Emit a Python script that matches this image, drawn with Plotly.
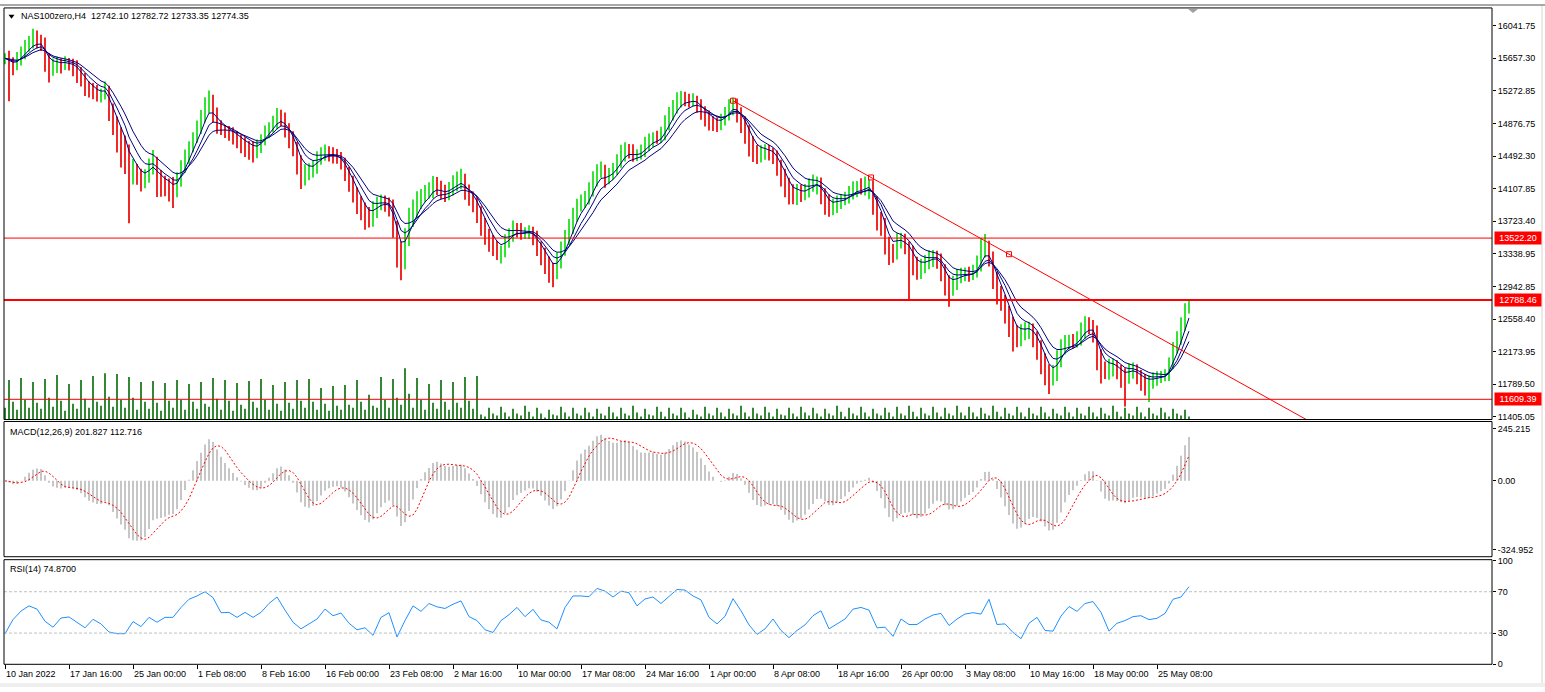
import numpy as np
import pandas as pd
import plotly.graph_objects as go

W, H = 1545, 692

# ---------------- data ----------------
# one point = two H4 bars (8 hours), starting 10 Jan 2022
close = [
    15655, 15597, 15573, 15620, 15714, 15772, 15831, 15866, 15854, 15831,
    15655, 15538, 15562, 15597, 15585, 15609, 15590, 15562, 15503, 15421,
    15339, 15281, 15269, 15222, 15235, 15269, 15070, 14894, 14777, 14660,
    14543, 14309, 14332, 14285, 14215, 14250, 14367, 14426, 14250, 14192,
    14168, 14157, 14098, 14192, 14367, 14484, 14602, 14719, 14836, 14953,
    15093, 15152, 15011, 14871, 14824, 14801, 14777, 14742, 14707, 14660,
    14625, 14602, 14578, 14602, 14684, 14777, 14836, 14894, 14976, 14953,
    14836, 14719, 14602, 14426, 14285, 14309,
    14330, 14367, 14461, 14520, 14543, 14520, 14508, 14484, 14426, 14309,
    14192, 14075, 13958, 13875, 13782, 13747, 13840, 13922, 13958, 13945,
    13899, 13665, 13372, 13232, 13489, 13723, 13840, 13958, 14016, 14051,
    14075, 14168, 14133, 14075, 14051, 14098, 14157, 14192, 14215, 14098,
    14016, 13958, 13840, 13700, 13583, 13489, 13431, 13372, 13385, 13489,
    13548, 13630, 13620, 13583, 13590, 13606, 13548, 13431, 13349, 13255,
    13161, 13115, 13232, 13372, 13489, 13630, 13782, 13899, 13958, 13992,
    14075, 14215, 14309, 14332, 14250,
    14285, 14332, 14426, 14520, 14578, 14566, 14508, 14515, 14543, 14625,
    14684, 14707, 14700, 14742, 14871, 14976, 15070, 15152, 15187, 15175,
    15152, 15160, 15128, 15035, 14976, 14918, 14894, 14871, 14918, 14988,
    15070, 15128, 15035, 14918, 14801, 14660, 14566, 14520, 14543, 14566,
    14543, 14520, 14402, 14285, 14168, 14051, 14004, 14075, 14051, 14075,
    14133, 14168, 14192, 14075, 13958, 13864, 13899, 13958, 13981, 13992,
    14051, 14098, 14121, 14098, 14133, 14157, 13958, 13782, 13700, 13489,
    13372, 13349, 13489, 13513, 13431,
    13372, 13232, 13138, 13196, 13232, 13278, 13302, 13278, 13161, 13021,
    12927, 12985, 13056, 13091, 13103, 13095, 13115, 13196, 13372, 13431,
    13314, 13079, 12904, 12810, 12670, 12529, 12377, 12318, 12400, 12435,
    12459, 12377, 12259, 12107, 11967, 11873, 11908, 12061, 12201, 12283,
    12295, 12283, 12318, 12412, 12494, 12480, 12435, 12143, 11967, 11932,
    11990, 12014, 11967, 11908, 11873, 11943, 11967, 11908, 11850, 11814,
    11826, 11850, 11873, 11885, 11896, 12025, 12201, 12318, 12494, 12670,
    12774.35,
]
up_wick = [
    60, 90, 70, 110, 80, 100, 90, 140, 120, 80,
    70, 60, 90, 80, 60, 70, 50, 60, 70, 50,
    60, 40, 80, 70, 60, 110, 60, 50, 70, 60,
    80, 90, 130, 70, 60, 90, 100, 140, 60, 80,
    70, 60, 90, 110, 80, 90, 70, 60, 80, 90,
    100, 120, 70, 60, 50, 40, 50, 60, 50, 40,
    60, 50, 70, 90, 70, 80, 60, 80, 90, 70,
    60, 50, 70, 60, 80, 90, 80, 70, 90, 80,
    90, 70, 80, 70, 60, 50, 60, 70, 50, 60,
    70, 110, 120, 90, 80, 70, 60, 80, 60, 110,
    150, 160, 140, 120, 90, 100, 110, 90, 80, 70,
    80, 90, 110, 120, 130, 70, 60, 60, 50, 60,
    60, 50, 70, 60, 50, 80, 90, 100, 70, 80,
    60, 70, 50, 60, 50, 60, 50, 70, 120, 110,
    130, 120, 100, 90, 80, 90, 110, 100, 90, 100,
    60, 70, 80, 90, 110, 80, 60, 70, 60, 90,
    100, 80, 70, 90, 100, 110, 100, 90, 100, 80,
    70, 60, 80, 50, 40, 50, 60, 50, 60, 80,
    90, 100, 60, 50, 40, 50, 60, 70, 60, 80,
    70, 60, 50, 40, 50, 60, 70, 110, 90, 80,
    90, 100, 110, 60, 50, 40, 80, 90, 70, 60,
    80, 90, 100, 80, 110, 120, 60, 50, 60, 50,
    60, 50, 80, 90, 70, 60, 50, 60, 70, 80,
    90, 100, 80, 70, 60, 50, 60, 90, 100, 80,
    70, 80, 90, 120, 150, 140, 60, 50, 40, 50,
    40, 50, 60, 110, 100, 90, 70, 50, 40, 50,
    50, 60, 110, 130, 120, 90, 80, 90, 100, 110,
    100, 90, 70, 50, 60, 90, 100, 80, 60, 50,
    70, 90, 80, 60, 50, 60, 70, 80, 70, 60,
    70, 80, 90, 100, 90, 80, 8,
]
dn_wick = [
    70, 450, 120, 60, 50, 70, 40, 60, 80, 90,
    160, 170, 90, 80, 110, 70, 80, 120, 140, 100,
    130, 90, 100, 80, 90, 70, 160, 150, 240, 300,
    260, 610, 150, 130, 140, 100, 70, 90, 240, 180,
    150, 200, 220, 90, 60, 70, 80, 60, 70, 80,
    60, 90, 120, 110, 80, 90, 100, 110, 120, 130,
    140, 150, 160, 110, 70, 60, 70, 60, 80, 100,
    120, 130, 110, 150, 180, 140, 100, 90, 80, 70,
    80, 90, 100, 80, 90, 110, 120, 130, 150, 140,
    160, 100, 90, 80, 70, 110, 120, 140, 200, 210,
    80, 60, 70, 80, 90, 70, 60, 80, 100, 90,
    100, 80, 70, 80, 90, 120, 110, 130, 140, 150,
    140, 130, 120, 110, 150, 90, 80, 70, 90, 80,
    70, 80, 110, 120, 150, 160, 170, 175, 80, 70,
    60, 50, 60, 70, 60, 80, 70, 60, 80, 70,
    130, 90, 70, 60, 70, 90, 100, 80, 70, 60,
    60, 70, 80, 60, 50, 60, 70, 60, 70, 80,
    90, 80, 70, 120, 110, 130, 120, 100, 90, 70,
    60, 70, 90, 140, 150, 160, 170, 140, 120, 100,
    90, 100, 120, 140, 150, 160, 130, 80, 90, 100,
    80, 70, 60, 130, 150, 160, 90, 70, 80, 90,
    70, 60, 70, 90, 60, 70, 150, 160, 170, 150,
    160, 170, 120, 80, 90, 100, 585, 150, 110, 100,
    90, 80, 100, 120, 150, 180, 220, 90, 80, 70,
    80, 90, 70, 60, 70, 80, 130, 160, 170, 150,
    160, 180, 200, 90, 80, 90, 110, 150, 180, 200,
    190, 200, 100, 80, 70, 60, 80, 70, 60, 70,
    80, 100, 150, 190, 170, 80, 90, 110, 120, 160,
    350, 80, 90, 120, 140, 160, 235, 90, 80, 70,
    60, 70, 60, 50, 60, 70, 41,
]
# tick volume (thousands), one value per point
volume = [
    12, 40, 18, 10, 42, 20, 12, 38, 17, 11, 41, 22, 13, 45, 19, 9, 36, 16, 11, 40, 21, 12, 44, 18, 14, 47, 23, 13, 46, 20,
    12, 43, 22, 10, 38, 18, 11, 39, 17, 9, 37, 19, 12, 40, 20, 10, 36, 18, 11, 38, 16, 13, 42, 21, 10, 40, 19, 9, 37, 15,
    11, 39, 18, 12, 41, 20, 10, 35, 16, 9, 38, 17, 11, 40, 19, 12, 41, 18, 10, 32, 16, 9, 34, 14, 10, 35, 15, 12, 40, 18,
    10, 25, 14, 12, 43, 20, 12, 41, 22, 15, 52, 26, 12, 42, 20, 10, 36, 17, 11, 40, 18, 10, 38, 17, 12, 43, 19, 11, 44, 5,
    3, 12, 6, 4, 13, 7, 3, 11, 6, 4, 14, 8, 3, 12, 6, 2, 10, 5, 4, 13, 7, 3, 12, 6, 4, 12, 7, 3, 11, 6,
    4, 13, 7, 3, 12, 6, 4, 14, 7, 3, 11, 5, 4, 13, 8, 3, 12, 6, 4, 12, 7, 2, 10, 5, 3, 13, 6, 4, 12, 7,
    3, 11, 6, 4, 14, 7, 3, 12, 6, 4, 13, 7, 3, 11, 5, 4, 12, 6, 3, 13, 7, 4, 12, 6, 3, 11, 6, 4, 14, 8,
    3, 12, 6, 4, 13, 7, 3, 11, 6, 4, 12, 7, 3, 13, 6, 4, 14, 8, 3, 12, 6, 4, 13, 7, 3, 12, 6, 4, 14, 7,
    4, 13, 7, 3, 12, 6, 4, 14, 8, 3, 12, 6, 4, 13, 7, 3, 12, 6, 4, 13, 7, 3, 11, 6, 4, 13, 7, 3, 12, 6,
    4, 13, 7, 3, 12, 6, 4, 14, 8, 3, 12, 6, 4, 13, 7, 3, 12, 6, 4, 12, 7, 3, 11, 6, 4, 10, 3,
]
# RSI(14), one value every four H4 bars
rsi14 = [
    29.4, 43.0, 51.3, 56.3, 53.2, 41.4, 35.7, 44.6, 45.6, 40.5,
    35.1, 43.3, 38.9, 31.0, 29.4, 29.4, 41.1, 36.3, 45.2, 40.5,
    45.2, 45.2, 54.8, 62.7, 65.9, 70.0, 64.3, 49.7, 50.0, 45.2,
    50.0, 45.2, 50.0, 58.6, 64.9, 52.2, 40.5, 34.1, 38.9, 43.6,
    53.2, 46.8, 49.4, 39.5, 33.2, 35.1, 27.8, 45.2, 49.7, 26.2,
    42.1, 56.3, 51.0, 58.6, 55.4, 53.8, 57.9, 61.1, 45.9, 42.1,
    33.2, 30.6, 42.1, 47.8, 54.8, 45.9, 52.9, 42.7, 40.5, 34.1,
    54.8, 65.9, 65.9, 65.2, 73.2,
    70.6, 64.9, 70.6, 69.0, 56.3, 63.0, 64.9, 58.6, 65.9, 72.2,
    71.6, 65.9, 62.1, 45.2, 38.9, 46.2, 63.3, 51.6, 37.9, 28.7,
    34.1, 43.6, 32.5, 25.6, 32.5, 37.9, 46.8, 51.6, 34.1, 38.9,
    43.6, 53.2, 54.8, 52.2, 35.1, 35.7, 26.8, 43.6, 38.3, 38.3,
    43.6, 47.5, 49.0, 37.3, 43.6, 48.4, 49.7, 48.4, 62.7, 38.3,
    38.9, 30.6, 24.6, 39.5, 45.2, 32.5, 31.9, 46.5, 55.7, 51.0,
    58.6, 60.5, 50.0, 31.9, 39.5, 42.1, 45.9, 46.8, 43.0, 44.3,
    49.0, 62.7, 64.9, 74.87,
]
date_labels = ["10 Jan 2022", "17 Jan 16:00", "25 Jan 00:00", "1 Feb 08:00", "8 Feb 16:00",
               "16 Feb 00:00", "23 Feb 08:00", "2 Mar 16:00", "10 Mar 00:00", "17 Mar 08:00",
               "24 Mar 16:00", "1 Apr 00:00", "8 Apr 08:00", "18 Apr 16:00", "26 Apr 00:00",
               "3 May 08:00", "10 May 16:00", "18 May 00:00", "25 May 08:00"]
price_ticks = [16041.75, 15657.30, 15272.85, 14876.75, 14492.30, 14107.85, 13723.40,
               13338.95, 12942.85, 12558.40, 12173.95, 11789.50, 11405.05]
macd_ticks = [245.215, 0.0, -324.952]
macd_ticktext = ["245.215", "0.00", "-324.952"]
rsi_ticks = [100, 70, 30, 0]
rsi_levels = [70, 30]
hlines = [13522.20, 12788.46, 11609.39]
trend_bar = [364, 502]          # H4 bar index of the two anchors
trend_price = [15152.0, 13331.0]
title_text = "NAS100zero,H4\u00a0\u00a012742.10 12782.72 12733.35 12774.35"
macd_text = "MACD(12,26,9) 201.827 112.716"
rsi_text = "RSI(14) 74.8700"

BARS_PER_POINT = 2
BARS_PER_LABEL = 32
BARS_PER_RSI = 4
LAST_BAR = 743.5

# ---------------- derived series ----------------
n = len(close)
c = np.array(close, float)
o = np.r_[c[0], c[:-1]]
hi = np.maximum(o, c) + np.array(up_wick, float)
lo = np.minimum(o, c) - np.array(dn_wick, float)
xb = np.arange(n) * BARS_PER_POINT
is_up = c >= o

s = pd.Series(c)
ma_fast = s.ewm(span=4, adjust=False).mean()
ma_mid = s.ewm(span=7, adjust=False).mean()
ma_slow = s.ewm(span=11, adjust=False).mean()
macd = s.ewm(span=6, adjust=False).mean() - s.ewm(span=13, adjust=False).mean()
signal = macd.rolling(5, min_periods=1).mean()
xr = np.arange(len(rsi14)) * BARS_PER_RSI

# ---------------- geometry helpers ----------------
def fx(p):
    return p / W

def fy(p):
    return 1 - p / H

X0, X1 = 4, 1492
PRICE_PX = (4, 421)
MACD_PX = (423, 560)
RSI_PX = (563, 669)
FONT = "Liberation Sans, Arial, sans-serif"
GREEN = "#1fe01f"
RED = "#ee1111"

fig = go.Figure()

fig.add_trace(go.Bar(x=xb, y=volume, yaxis="y4", marker=dict(color="#1e7a1e", line=dict(width=0)),
                     width=0.9, hoverinfo="skip"))
fig.add_trace(go.Bar(x=xb[is_up], y=(hi - lo)[is_up], base=lo[is_up], marker=dict(color=GREEN, line=dict(width=0)),
                     width=0.9, hoverinfo="skip"))
fig.add_trace(go.Bar(x=xb[~is_up], y=(hi - lo)[~is_up], base=lo[~is_up], marker=dict(color=RED, line=dict(width=0)),
                     width=0.9, hoverinfo="skip"))
for ma in (ma_slow, ma_mid, ma_fast):
    fig.add_trace(go.Scatter(x=xb, y=ma, mode="lines", line=dict(color="#000080", width=1), hoverinfo="skip"))

slope = (trend_price[1] - trend_price[0]) / (trend_bar[1] - trend_bar[0])
fig.add_trace(go.Scatter(x=[trend_bar[0], LAST_BAR],
                         y=[trend_price[0], trend_price[0] + slope * (LAST_BAR - trend_bar[0])],
                         mode="lines", line=dict(color="red", width=1), hoverinfo="skip"))
mid_bar = (trend_bar[0] + trend_bar[1]) / 2
fig.add_trace(go.Scatter(x=[trend_bar[0], mid_bar, trend_bar[1]],
                         y=[trend_price[0], (trend_price[0] + trend_price[1]) / 2, trend_price[1]],
                         mode="markers", marker=dict(symbol="square-open", size=5, color="red", line=dict(width=1)),
                         hoverinfo="skip"))

fig.add_trace(go.Bar(x=xb, y=macd, yaxis="y2", marker=dict(color="#c0c0c0", line=dict(width=0)),
                     width=0.9, hoverinfo="skip"))
fig.add_trace(go.Scatter(x=xb, y=signal, yaxis="y2", mode="lines",
                         line=dict(color="red", width=1, dash="2px,2px"), hoverinfo="skip"))
fig.add_trace(go.Scatter(x=xr, y=rsi14, yaxis="y3", mode="lines",
                         line=dict(color="#1e90ff", width=1), hoverinfo="skip"))

axis_common = dict(showgrid=False, zeroline=False, showline=False, fixedrange=True)
ytick_common = dict(side="right", anchor="x", ticks="outside", ticklen=3, tickwidth=1, tickcolor="black",
                    tickfont=dict(family=FONT, size=9, color="black"))

shapes = []
for lv in hlines:
    shapes.append(dict(type="line", xref="paper", yref="y", x0=fx(X0), x1=fx(X1), y0=lv, y1=lv,
                       line=dict(color="red", width=2 if lv == hlines[1] else 1)))
for lv in rsi_levels:
    shapes.append(dict(type="line", xref="paper", yref="y3", x0=fx(X0), x1=fx(X1), y0=lv, y1=lv,
                       line=dict(color="#c0c0c0", width=1, dash="3px,2px")))
for top, bot in (PRICE_PX, MACD_PX, RSI_PX):
    shapes.append(dict(type="rect", xref="paper", yref="paper", x0=fx(X0), x1=fx(X1), y0=fy(bot), y1=fy(top),
                       line=dict(color="black", width=1), fillcolor="rgba(0,0,0,0)", layer="above"))
shapes.append(dict(type="rect", xref="paper", yref="paper", x0=0, x1=1, y0=fy(2), y1=1,
                   line=dict(width=0), fillcolor="#a8a8a8"))
shapes.append(dict(type="rect", xref="paper", yref="paper", x0=0, x1=1, y0=0, y1=fy(688),
                   line=dict(width=0), fillcolor="#efefef"))
shapes.append(dict(type="line", xref="paper", yref="paper", x0=fx(1542), x1=fx(1542), y0=fy(688), y1=fy(2),
                   line=dict(color="#d4d4d4", width=1)))

def tri_path(pts):
    return "M " + " L ".join(f"{fx(a):.5f},{fy(b):.5f}" for a, b in pts) + " Z"

shapes.append(dict(type="path", xref="paper", yref="paper", path=tri_path([(8.5, 11), (14.5, 11), (11.5, 15)]),
                   fillcolor="black", line=dict(width=0)))
shapes.append(dict(type="path", xref="paper", yref="paper", path=tri_path([(1188, 5), (1198, 5), (1193, 9)]),
                   fillcolor="#a0a0a0", line=dict(width=0)))

annotations = []
annotations.append(dict(xref="paper", yref="paper", x=fx(19), y=fy(12.5), xanchor="left", yanchor="middle",
                        text=title_text, showarrow=False, font=dict(family=FONT, size=9, color="black")))
annotations.append(dict(xref="paper", yref="paper", x=fx(8), y=fy(433.5), xanchor="left", yanchor="middle",
                        text=macd_text, showarrow=False, font=dict(family=FONT, size=9, color="black")))
annotations.append(dict(xref="paper", yref="paper", x=fx(8), y=fy(572), xanchor="left", yanchor="middle",
                        text=rsi_text, showarrow=False, font=dict(family=FONT, size=9, color="black")))
for j, lab in enumerate(date_labels):
    annotations.append(dict(xref="x", yref="paper", x=j * BARS_PER_LABEL, y=fy(678.5), xanchor="left",
                            yanchor="middle", text=lab, showarrow=False, xshift=-1,
                            font=dict(family=FONT, size=9, color="black")))
for lv in hlines:
    annotations.append(dict(xref="paper", yref="y", x=fx(1494), y=lv, xanchor="left", yanchor="middle",
                            text=f"{lv:.2f}", showarrow=False, bgcolor="#ff0000", borderpad=1, width=44,
                            font=dict(family=FONT, size=9, color="white")))

fig.update_layout(
    width=W, height=H, autosize=False, margin=dict(l=0, r=0, t=0, b=0),
    paper_bgcolor="white", plot_bgcolor="white", showlegend=False, barmode="overlay",
    xaxis=dict(domain=[fx(X0), fx(X1)], range=[-0.5, LAST_BAR], anchor="y3", ticks="outside", ticklen=4,
               tickcolor="black", tickvals=[j * BARS_PER_LABEL for j in range(len(date_labels))],
               showticklabels=False, **axis_common),
    yaxis=dict(domain=[fy(PRICE_PX[1]), fy(PRICE_PX[0])], range=[11369.8, 16252.5],
               tickvals=price_ticks, ticktext=[f"{v:.2f}" for v in price_ticks], **ytick_common, **axis_common),
    yaxis2=dict(domain=[fy(MACD_PX[1]), fy(MACD_PX[0])], range=[-356.7, 279.0],
                tickvals=macd_ticks, ticktext=macd_ticktext, **ytick_common, **axis_common),
    yaxis3=dict(domain=[fy(RSI_PX[1]), fy(RSI_PX[0])], range=[-0.2, 101],
                tickvals=rsi_ticks, ticktext=[str(v) for v in rsi_ticks], **ytick_common, **axis_common),
    yaxis4=dict(overlaying="y", anchor="x", range=[0, 417], visible=False, fixedrange=True),
    shapes=shapes, annotations=annotations,
)

fig.write_html("out.html", config={"displayModeBar": False, "staticPlot": True},
               post_script="document.body.style.margin='0';document.body.style.overflow='hidden';")
